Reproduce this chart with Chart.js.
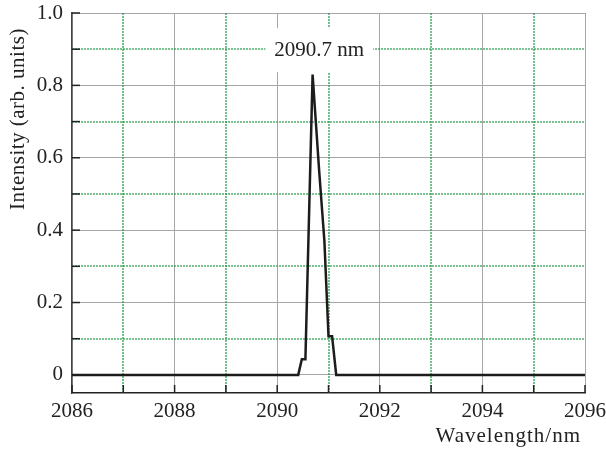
<!DOCTYPE html>
<html>
<head>
<meta charset="utf-8">
<script src="https://cdn.jsdelivr.net/npm/chart.js@4.4.1/dist/chart.umd.min.js"></script>
<style>
  html, body { margin: 0; padding: 0; background: #fff; }
  #wrap { width: 606px; height: 450px; }
</style>
</head>
<body>
<div id="wrap"><canvas id="spectrum"></canvas></div>
<script>
// spectrum
var wavelengths = [2086, 2090.41, 2090.48, 2090.55, 2090.69, 2090.82, 2090.92, 2091.0, 2091.07, 2091.15, 2096];
var intensities = [0, 0, 0.043, 0.043, 0.83, 0.56, 0.37, 0.107, 0.107, 0, 0];

var xMajor = [2086, 2088, 2090, 2092, 2094, 2096];
var xMinor = [2087, 2089, 2091, 2093, 2095];
var yMajor = [0, 0.2, 0.4, 0.6, 0.8, 1.0];
var yMinor = [0.1, 0.3, 0.5, 0.7, 0.9];

var peakLabel = "2090.7 nm";
var peakLabelPos = { x: 2090.82, y: 0.9 };
var xTitle = "Wavelength/nm";
var yTitle = "Intensity (arb. units)";

var serif = "'Liberation Serif', 'DejaVu Serif', serif";

var points = wavelengths.map(function(w, i) { return { x: w, y: intensities[i] }; });

// minor dotted grid, inner tick marks, peak label, axis titles
var extras = {
    id: 'extras',
    beforeDatasetsDraw: function(chart) {
        var ctx = chart.ctx, a = chart.chartArea;
        var xs = chart.scales.x, ys = chart.scales.y;
        ctx.save();
        ctx.strokeStyle = 'rgba(20, 150, 60, 0.75)';
        ctx.lineWidth = 1.6;
        ctx.setLineDash([2, 1]);
        xMinor.forEach(function(v) {
            var px = Math.round(xs.getPixelForValue(v));
            ctx.beginPath(); ctx.moveTo(px, a.top); ctx.lineTo(px, a.bottom); ctx.stroke();
        });
        yMinor.forEach(function(v) {
            var py = Math.round(ys.getPixelForValue(v));
            ctx.beginPath(); ctx.moveTo(a.left, py); ctx.lineTo(a.right, py); ctx.stroke();
        });
        ctx.setLineDash([]);

        // tick marks on the inside
        ctx.strokeStyle = '#222';
        ctx.lineWidth = 1.5;
        xMajor.concat(xMinor).forEach(function(v) {
            var px = xs.getPixelForValue(v);
            ctx.beginPath(); ctx.moveTo(px, a.bottom); ctx.lineTo(px, a.bottom - 8); ctx.stroke();
        });
        yMajor.concat(yMinor).forEach(function(v) {
            var py = ys.getPixelForValue(v);
            ctx.beginPath(); ctx.moveTo(a.left, py); ctx.lineTo(a.left + 8, py); ctx.stroke();
        });

        // peak label on a white box
        var lx = xs.getPixelForValue(peakLabelPos.x);
        var ly = ys.getPixelForValue(peakLabelPos.y);
        ctx.font = '21px ' + serif;
        var tw = ctx.measureText(peakLabel).width;
        ctx.fillStyle = '#fff';
        ctx.fillRect(lx - tw / 2 - 9, ly - 21, tw + 18, 44);
        ctx.fillStyle = '#222';
        ctx.textAlign = 'center';
        ctx.textBaseline = 'middle';
        ctx.fillText(peakLabel, lx, ly + 1);
        ctx.restore();
    },
    afterDraw: function(chart) {
        var ctx = chart.ctx, a = chart.chartArea;
        ctx.save();
        ctx.fillStyle = '#222';
        ctx.font = '21px ' + serif;
        ctx.letterSpacing = '1px';
        ctx.textAlign = 'right';
        ctx.textBaseline = 'alphabetic';
        ctx.fillText(xTitle, a.right - 4, 442);

        ctx.letterSpacing = '0.5px';
        ctx.translate(18, 119);
        ctx.rotate(-Math.PI / 2);
        ctx.textAlign = 'center';
        ctx.textBaseline = 'middle';
        ctx.fillText(yTitle, 0, 0);
        ctx.restore();
    }
};

new Chart(document.getElementById('spectrum').getContext('2d'), {
    type: 'line',
    data: {
        datasets: [{
            data: points,
            borderColor: '#1c1c1c',
            borderWidth: 2.5,
            pointRadius: 0,
            tension: 0,
            fill: false
        }]
    },
    options: {
        responsive: true,
        maintainAspectRatio: false,
        animation: false,
        layout: { padding: { top: 13, right: 21, left: 0, bottom: 0 } },
        plugins: { legend: { display: false }, tooltip: { enabled: false } },
        scales: {
            x: {
                type: 'linear',
                min: 2086,
                max: 2096,
                afterBuildTicks: function(s) { s.ticks = xMajor.map(function(v) { return { value: v }; }); },
                afterFit: function(s) { s.height = 57; s.paddingLeft = 0; s.paddingRight = 0; },
                ticks: {
                    font: { family: serif, size: 21 },
                    color: '#222',
                    padding: 6,
                    maxRotation: 0,
                    autoSkip: false,
                    callback: function(v) { return String(v); }
                },
                grid: { color: '#a6a6a6', lineWidth: 1, drawTicks: false },
                border: { color: '#222', width: 1.5 }
            },
            y: {
                min: -0.05,
                max: 1.0,
                afterBuildTicks: function(s) { s.ticks = yMajor.map(function(v) { return { value: v }; }); },
                afterFit: function(s) { s.width = 72; s.paddingTop = 0; s.paddingBottom = 0; },
                ticks: {
                    font: { family: serif, size: 21 },
                    color: '#222',
                    padding: 9,
                    callback: function(v) { return v === 0 ? '0' : v.toFixed(1); }
                },
                grid: { color: '#a6a6a6', lineWidth: 1, drawTicks: false },
                border: { color: '#444', width: 1.5 }
            }
        }
    },
    plugins: [extras]
});
</script>
</body>
</html>
